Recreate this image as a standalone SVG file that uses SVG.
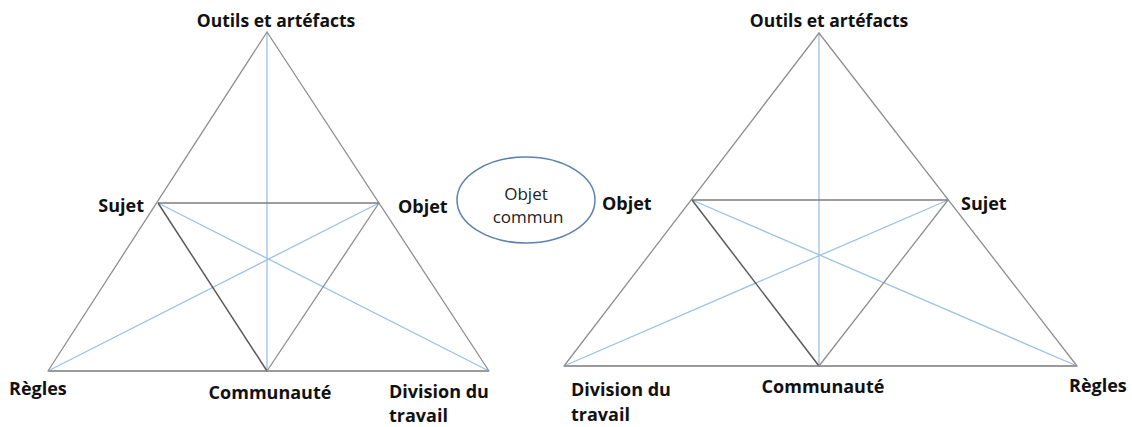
<svg xmlns="http://www.w3.org/2000/svg" width="1132" height="427" viewBox="0 0 1132 427">
  <style>
    .edge { stroke: #8f8f8f; stroke-width: 1.3; fill: none; stroke-linecap: round; }
    .base { stroke: #9a9a9a; stroke-width: 1.8; fill: none; }
    .dark { stroke: #5a5a5a; stroke-width: 1.5; fill: none; }
    .mid { stroke: #7c7c7c; stroke-width: 1.4; fill: none; }
    .blue { stroke: #9cc2e5; stroke-width: 1.3; fill: none; }
    .lbl { font-family: "Open Sans", "Liberation Sans", sans-serif; font-weight: 700; font-size: 18px; fill: #111; }
    .top { font-size: 17.5px; }
    .oval { fill: #fff; stroke: #5b82ad; stroke-width: 1.5; }
    .oval-txt { font-family: "Open Sans", "Liberation Sans", sans-serif; font-size: 17px; fill: #222; text-anchor: middle; }
  </style>
  <rect width="1132" height="427" fill="#fff"/>

  <!-- connectors: left activity triangle -->
  <g id="connectors-left">
    <line class="blue" x1="267" y1="32" x2="267" y2="371"/>
    <line class="blue" x1="158" y1="203" x2="489" y2="371"/>
    <line class="blue" x1="379" y1="203" x2="48" y2="371"/>
    <line class="edge" x1="267" y1="32" x2="48" y2="371"/>
    <line class="edge" x1="267" y1="32" x2="489" y2="371"/>
    <line class="base" x1="48" y1="371" x2="489" y2="371"/>
    <line class="mid" x1="158" y1="203" x2="379" y2="203"/>
    <line class="dark" x1="158" y1="203" x2="267" y2="371"/>
    <line class="edge" x1="379" y1="203" x2="267" y2="371"/>
  </g>

  <!-- connectors: right activity triangle -->
  <g id="connectors-right">
    <line class="blue" x1="819" y1="33" x2="819" y2="366"/>
    <line class="blue" x1="692" y1="200" x2="1077" y2="366"/>
    <line class="blue" x1="948" y1="200" x2="564" y2="366"/>
    <line class="edge" x1="819" y1="33" x2="564" y2="366"/>
    <line class="edge" x1="819" y1="33" x2="1077" y2="366"/>
    <line class="base" x1="564" y1="366" x2="1077" y2="366"/>
    <line class="mid" x1="692" y1="200" x2="948" y2="200"/>
    <line class="dark" x1="692" y1="200" x2="819" y2="366"/>
    <line class="edge" x1="948" y1="200" x2="819" y2="366"/>
  </g>

  <!-- left system labels -->
  <g id="left-outils"><text class="lbl top" x="276" y="27" text-anchor="middle">Outils et artéfacts</text></g>
  <g id="left-sujet"><text class="lbl" x="144" y="212" text-anchor="end">Sujet</text></g>
  <g id="left-objet"><text class="lbl" x="398" y="213">Objet</text></g>
  <g id="left-regles"><text class="lbl" x="9" y="395">Règles</text></g>
  <g id="left-communaute"><text class="lbl" x="270" y="399" text-anchor="middle">Communauté</text></g>
  <g id="left-division">
    <text class="lbl" x="389" y="398">Division du</text>
    <text class="lbl" x="389" y="422">travail</text>
  </g>

  <!-- shared object -->
  <g id="objet-commun">
    <ellipse class="oval" cx="526" cy="200" rx="69" ry="43"/>
    <text class="oval-txt" x="526" y="200">Objet</text>
    <text class="oval-txt" x="528" y="223">commun</text>
  </g>

  <!-- right system labels -->
  <g id="right-outils"><text class="lbl top" x="829" y="27" text-anchor="middle">Outils et artéfacts</text></g>
  <g id="right-objet"><text class="lbl" x="602" y="210">Objet</text></g>
  <g id="right-sujet"><text class="lbl" x="961" y="210">Sujet</text></g>
  <g id="right-division">
    <text class="lbl" x="571" y="396">Division du</text>
    <text class="lbl" x="571" y="421">travail</text>
  </g>
  <g id="right-communaute"><text class="lbl" x="823" y="393" text-anchor="middle">Communauté</text></g>
  <g id="right-regles"><text class="lbl" x="1069" y="392">Règles</text></g>
</svg>
